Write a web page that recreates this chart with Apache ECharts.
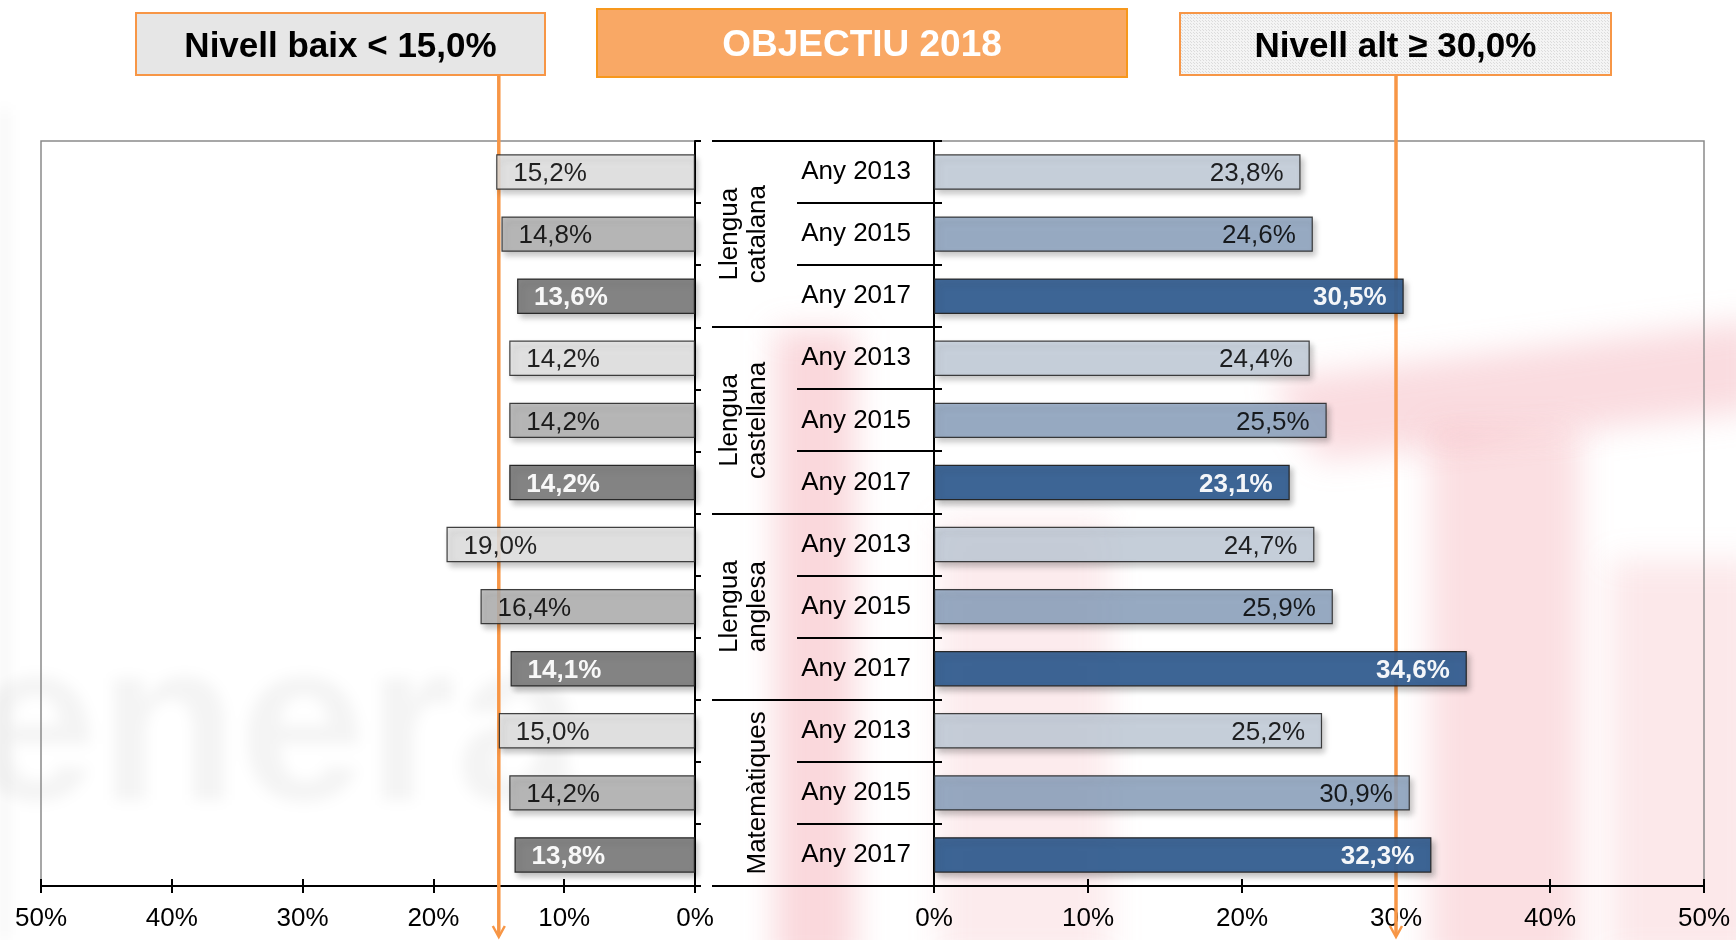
<!DOCTYPE html>
<html><head><meta charset="utf-8">
<script src="https://cdn.jsdelivr.net/npm/echarts@6/dist/echarts.min.js"></script>
<style>html,body{margin:0;padding:0;background:#fff}#c{width:1736px;height:940px}</style>
</head><body><div id="c"></div>
<script>
// ---- data ----
const groups = ['Llengua\ncatalana', 'Llengua\ncastellana', 'Llengua\nanglesa', 'Matemàtiques'];
const years = ['Any 2013', 'Any 2015', 'Any 2017'];
const lowValues = [15.2, 14.8, 13.6, 14.2, 14.2, 14.2, 19.0, 16.4, 14.1, 15.0, 14.2, 13.8];
const highValues = [23.8, 24.6, 30.5, 24.4, 25.5, 23.1, 24.7, 25.9, 34.6, 25.2, 30.9, 32.3];
const axisMin = 0, axisMax = 50, axisStep = 10;
const lowThreshold = 15.0;
const highThreshold = 30.0;
const boxTitles = ['Nivell baix < 15,0%', 'OBJECTIU 2018', 'Nivell alt ≥ 30,0%'];

// ---- styles ----
const FONT = "'Liberation Sans', Arial, sans-serif";
const lowColors = ['#e4e4e4', '#b3b3b3', '#7f7f7f'];
const highColors = ['#c6d0dd', '#8ea5c1', '#366092'];
const barOpacity = [0.85, 0.85, 0.95];
const ORANGE = '#f79646';

const categories = [];
groups.forEach(() => years.forEach(y => categories.push(y)));
const fmt = v => v.toFixed(1).replace('.', ',') + '%';

function barData(values, colors) {
  return values.map((v, i) => {
    const yi = i % years.length;
    const last = yi === years.length - 1;
    return {
      value: v,
      itemStyle: { color: colors[yi], opacity: barOpacity[yi] },
      label: { color: last ? '#fff' : '#000', fontWeight: last ? 'bold' : 'normal' }
    };
  });
}

const chart = echarts.init(document.getElementById('c'), null, { renderer: 'canvas' });

const xBase = (gi, inverse) => ({
  type: 'value', gridIndex: gi, min: axisMin, max: axisMax, interval: axisStep, inverse: inverse,
  position: 'bottom',
  axisLine: { show: true, lineStyle: { color: '#000', width: 2 } },
  axisTick: { show: true, length: 7, lineStyle: { color: '#000', width: 2 } },
  axisLabel: { formatter: v => v + '%', fontSize: 26, fontFamily: FONT, color: '#000', margin: 20 },
  splitLine: { show: false }
});
const xInner = (gi, inverse) => ({
  type: 'value', gridIndex: gi, min: axisMin, max: axisMax, interval: axisStep, inverse: inverse,
  position: 'bottom',
  axisLine: { show: false },
  axisTick: { show: true, inside: true, length: 7, lineStyle: { color: '#000', width: 2 } },
  axisLabel: { show: false },
  splitLine: { show: false }
});

const barCommon = {
  type: 'bar', barWidth: '57%',
  itemStyle: { borderColor: '#222', borderWidth: 1.2, shadowBlur: 6, shadowOffsetX: 3, shadowOffsetY: 4, shadowColor: 'rgba(0,0,0,0.28)' },
  z: 3
};

chart.setOption({
  animation: false,
  backgroundColor: 'transparent',
  grid: [
    { left: 41, right: 1736 - 695, top: 141, bottom: 940 - 886, show: true, borderColor: '#8a8a8a', borderWidth: 1.5, backgroundColor: 'transparent' },
    { left: 934, right: 1736 - 1704, top: 141, bottom: 940 - 886, show: true, borderColor: '#8a8a8a', borderWidth: 1.5, backgroundColor: 'transparent' }
  ],
  xAxis: [xBase(0, true), xInner(0, true), xBase(1, false), xInner(1, false)],
  yAxis: [
    { type: 'category', gridIndex: 0, data: categories, inverse: true, position: 'right',
      axisLine: { show: true, lineStyle: { color: '#000', width: 2 } },
      axisTick: { show: true, length: 6, lineStyle: { color: '#000', width: 2 } },
      axisLabel: { show: false } },
    { type: 'category', gridIndex: 1, data: categories, inverse: true, position: 'left',
      axisLine: { show: true, lineStyle: { color: '#000', width: 2 } },
      axisTick: { show: false },
      axisLabel: { fontSize: 26, fontFamily: FONT, color: '#000', margin: 23, padding: [7, 0, 0, 0] } }
  ],
  series: [
    Object.assign({}, barCommon, {
      name: 'low', xAxisIndex: 0, yAxisIndex: 0, data: barData(lowValues, lowColors),
      label: { show: true, position: 'insideLeft', distance: 17, offset: [0, 2], fontSize: 26, fontFamily: FONT, formatter: p => fmt(p.value) }
    }),
    Object.assign({}, barCommon, {
      name: 'high', xAxisIndex: 2, yAxisIndex: 1, data: barData(highValues, highColors),
      label: { show: true, position: 'insideRight', distance: 17, offset: [0, 2], fontSize: 26, fontFamily: FONT, formatter: p => fmt(p.value) }
    })
  ]
});

// ---- blurred background watermark (decoration only) ----
function watermark() {
  const cv = document.createElement('canvas');
  cv.width = 1736; cv.height = 940;
  const ctx = cv.getContext('2d');
  ctx.filter = 'blur(16px)';
  ctx.fillStyle = 'rgba(235,110,125,0.27)';
  ctx.fillRect(775, 330, 80, 640);
  ctx.fillStyle = 'rgba(235,110,125,0.14)';
  ctx.fillRect(940, 520, 170, 440);
  ctx.fillStyle = 'rgba(235,110,125,0.24)';
  ctx.beginPath(); ctx.moveTo(1270, 380); ctx.lineTo(1760, 320); ctx.lineTo(1760, 410); ctx.lineTo(1320, 460); ctx.closePath(); ctx.fill();
  ctx.fillStyle = 'rgba(235,110,125,0.22)';
  ctx.fillRect(1430, 430, 150, 540);
  ctx.fillStyle = 'rgba(235,110,125,0.16)';
  ctx.fillRect(1610, 560, 150, 400);
  ctx.filter = 'blur(7px)';
  ctx.fillStyle = 'rgba(0,0,0,0.045)';
  ctx.font = 'bold 230px ' + FONT;
  ctx.textBaseline = 'alphabetic';
  ctx.fillText('enera', -30, 800);
  ctx.fillStyle = 'rgba(0,0,0,0.04)';
  ctx.fillRect(0, 110, 9, 830);
  return cv;
}

// ---- decorations computed from the axes ----
function buildGraphics() {
  const g = [];
  const c0 = chart.convertToPixel({ yAxisIndex: 1 }, 0);
  const c1 = chart.convertToPixel({ yAxisIndex: 1 }, 1);
  const band = c1 - c0;
  const axisX = chart.convertToPixel({ xAxisIndex: 2 }, 0);

  g.push({ type: 'image', z: -10, silent: true, style: { image: watermark(), x: 0, y: 0, width: 1736, height: 940 } });

  // boundary lines in the middle label area
  for (let i = 0; i <= categories.length; i++) {
    const y = Math.round(c0 - band / 2 + band * i);
    const isGroup = i % years.length === 0;
    g.push({ type: 'line', z: 5, silent: true,
      shape: { x1: isGroup ? axisX - 222 : axisX - 137, y1: y, x2: axisX + 8, y2: y },
      style: { stroke: '#000', lineWidth: 2 } });
  }

  // group labels (rotated)
  groups.forEach((name, gi) => {
    const yc = chart.convertToPixel({ yAxisIndex: 1 }, gi * years.length + 1);
    g.push({ type: 'text', z: 5, silent: true, x: axisX - 162, y: yc, rotation: Math.PI / 2,
      style: { text: name, font: 'normal 26px ' + FONT, fill: '#000', align: 'center', verticalAlign: 'bottom', lineHeight: 28 } });
  });

  // top boxes
  const pat = document.createElement('canvas');
  pat.width = 3; pat.height = 3;
  const pc = pat.getContext('2d');
  pc.fillStyle = '#f4f4f4'; pc.fillRect(0, 0, 3, 3);
  pc.fillStyle = '#dcdcdc'; pc.fillRect(0, 0, 1, 1); pc.fillRect(2, 2, 1, 1);

  const boxes = [
    { x: 136, y: 13, w: 409, h: 62, fill: '#e6e6e6', stroke: ORANGE, color: '#000', size: 35 },
    { x: 597, y: 9, w: 530, h: 68, fill: '#f9a865', stroke: '#f7981d', color: '#fff', size: 37 },
    { x: 1180, y: 13, w: 431, h: 62, fill: { image: pat, repeat: 'repeat' }, stroke: ORANGE, color: '#000', size: 35 }
  ];
  boxes.forEach((b, i) => {
    g.push({ type: 'rect', z: 6, silent: true, shape: { x: b.x, y: b.y, width: b.w, height: b.h },
      style: { fill: b.fill, stroke: b.stroke, lineWidth: 2 } });
    g.push({ type: 'text', z: 7, silent: true, x: b.x + b.w / 2, y: b.y + b.h / 2 + 3,
      style: { text: boxTitles[i], font: 'bold ' + b.size + 'px ' + FONT, fill: b.color, align: 'center', verticalAlign: 'middle' } });
  });

  // orange threshold lines with arrows (behind the bars)
  const lx = chart.convertToPixel({ xAxisIndex: 0 }, lowThreshold);
  const hx = chart.convertToPixel({ xAxisIndex: 2 }, highThreshold);
  [lx, hx].forEach(x => {
    g.push({ type: 'line', z: 1, silent: true, shape: { x1: x, y1: 75, x2: x, y2: 936 },
      style: { stroke: ORANGE, lineWidth: 3.5 } });
    g.push({ type: 'polyline', z: 1, silent: true, shape: { points: [[x - 6, 926], [x, 937], [x + 6, 926]] },
      style: { stroke: ORANGE, lineWidth: 2.5, fill: null } });
  });
  return g;
}
chart.setOption({ graphic: buildGraphics() });
</script></body></html>
